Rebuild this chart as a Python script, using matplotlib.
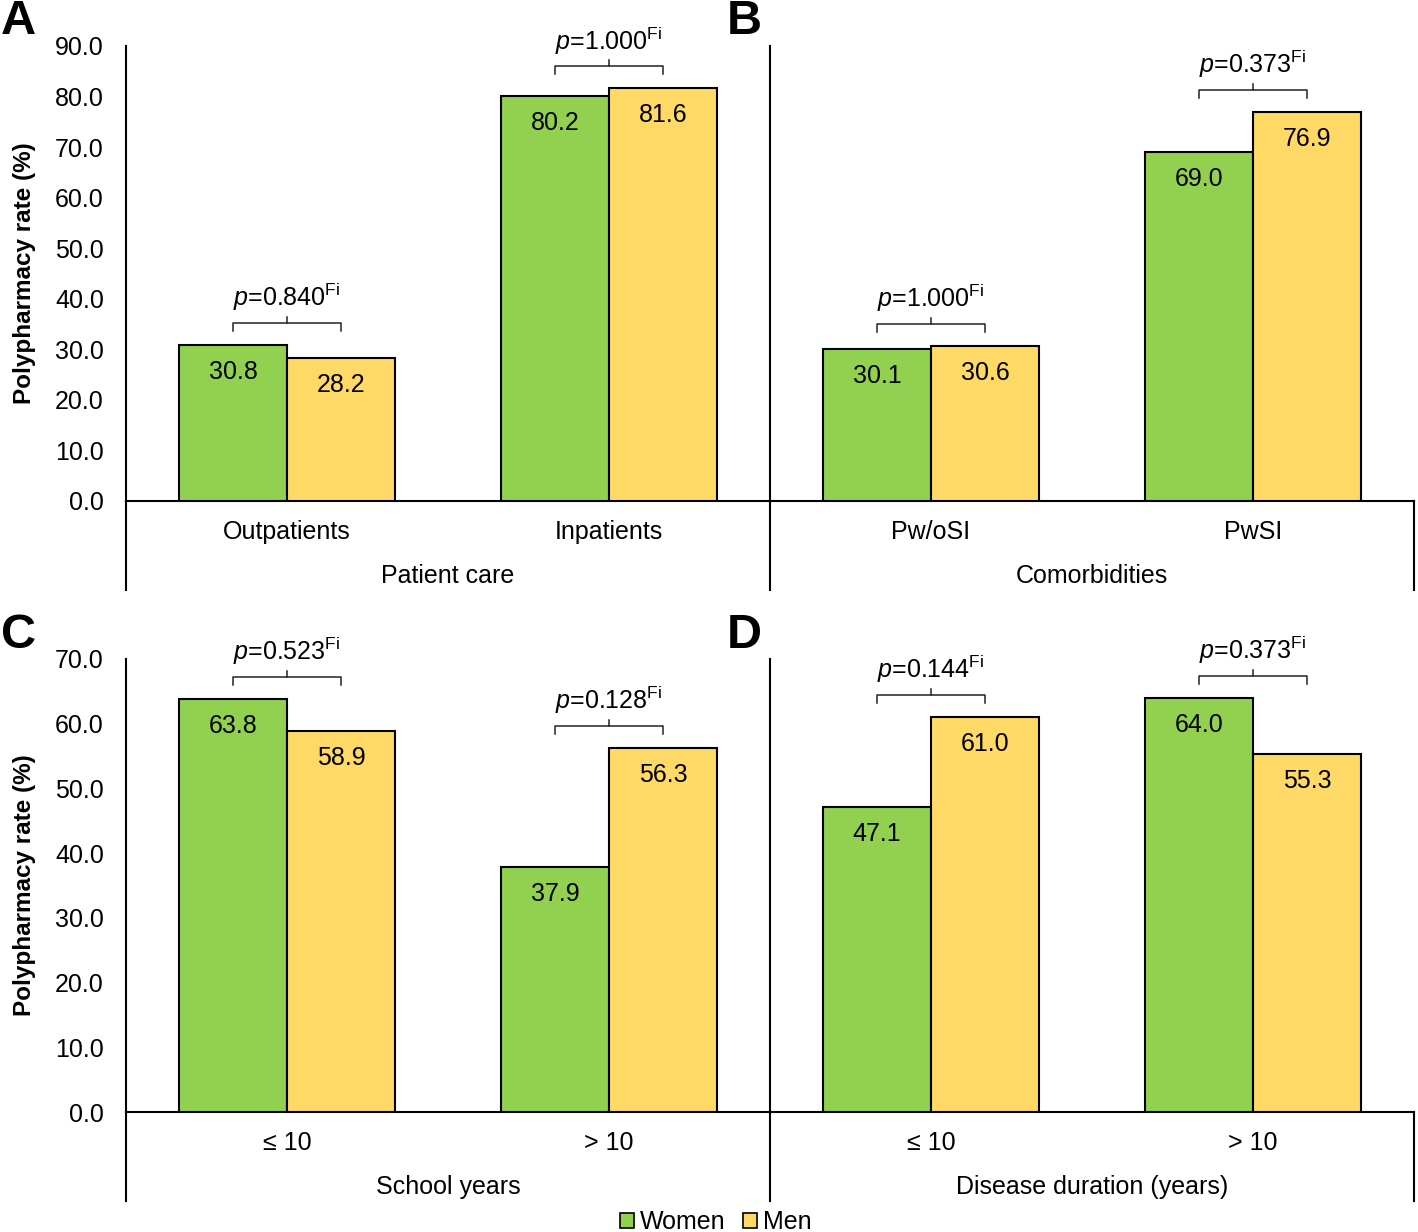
import matplotlib
matplotlib.use("Agg")
import matplotlib.pyplot as plt
from matplotlib.patches import Patch

plt.rcParams['font.family'] = ['Liberation Sans', 'DejaVu Sans']
plt.rcParams['mathtext.fontset'] = 'custom'
plt.rcParams['mathtext.rm'] = 'Liberation Sans'
plt.rcParams['mathtext.it'] = 'Liberation Sans:italic'
plt.rcParams['mathtext.bf'] = 'Liberation Sans:bold'

# ---------------- data ----------------
series_names = ["Women", "Men"]
colors = ["#92D050", "#FFD966"]

a_categories = ["Outpatients", "Inpatients"]
a_women = [30.8, 80.2]
a_men = [28.2, 81.6]
a_pvals = ["0.840", "1.000"]
a_group = "Patient care"

b_categories = ["Pw/oSI", "PwSI"]
b_women = [30.1, 69.0]
b_men = [30.6, 76.9]
b_pvals = ["1.000", "0.373"]
b_group = "Comorbidities"

c_categories = ["\u2264 10", "> 10"]
c_women = [63.8, 37.9]
c_men = [58.9, 56.3]
c_pvals = ["0.523", "0.128"]
c_group = "School years"

d_categories = ["\u2264 10", "> 10"]
d_women = [47.1, 64.0]
d_men = [61.0, 55.3]
d_pvals = ["0.144", "0.373"]
d_group = "Disease duration (years)"

top_ticks = [0, 10, 20, 30, 40, 50, 60, 70, 80, 90]
bottom_ticks = [0, 10, 20, 30, 40, 50, 60, 70]

# ---------------- layout ----------------
W, H = 1418, 1232
fig = plt.figure(figsize=(W / 100, H / 100), dpi=100)


def fx(px):
    return px / W


def fy(py):
    return 1 - py / H


FS = 18
BAR_W = 0.335


def panel(left_px, top_px, bottom_px, ymax, cats, women, men, pvals, group,
          show_y, ticks, right_line):
    h_px = bottom_px - top_px
    ax = fig.add_axes([fx(left_px), fy(bottom_px), 644 / W, h_px / H])
    ax.set_xlim(-0.5, 1.5)
    ax.set_ylim(0, ymax)
    ppu = h_px / ymax  # pixels per data unit
    x = list(range(len(cats)))
    ax.bar([i - BAR_W / 2 for i in x], women, width=BAR_W, color=colors[0],
           edgecolor='black', linewidth=1.5, zorder=3)
    ax.bar([i + BAR_W / 2 for i in x], men, width=BAR_W, color=colors[1],
           edgecolor='black', linewidth=1.5, zorder=3)
    # value labels inside bars
    for i in x:
        for off, v in ((-BAR_W / 2, women[i]), (BAR_W / 2, men[i])):
            ax.text(i + off, v - 27 / ppu, f"{v:.1f}", ha='center', va='center',
                    fontsize=FS, zorder=4)
    # brackets with p-values
    for i in x:
        top = max(women[i], men[i])
        yb = top + 22 / ppu
        x1, x2 = i - BAR_W / 2, i + BAR_W / 2
        lw = 1.1
        ax.plot([x1, x1, x2, x2], [yb - 8 / ppu, yb, yb, yb - 8 / ppu],
                color='#222222', lw=lw, clip_on=False, solid_joinstyle='round')
        ax.plot([i, i], [yb, yb + 6 / ppu], color='#222222', lw=lw, clip_on=False)
        ax.text(i, yb + 26 / ppu, f"$p$=$\\mathrm{{{pvals[i]}}}^{{\\mathrm{{Fi}}}}$",
                ha='center', va='center', fontsize=FS)
    # spines
    for s in ('top', 'right'):
        ax.spines[s].set_visible(False)
    ax.spines['left'].set_linewidth(1.5)
    ax.spines['bottom'].set_linewidth(1.5)
    ax.set_xticks([])
    if show_y:
        ax.set_yticks(ticks)
        ax.set_yticklabels([f"{t:.1f}" for t in ticks], fontsize=FS)
        ax.tick_params(axis='y', length=0, pad=16)
    else:
        ax.set_yticks([])
    # lines below axis (multi-level category frame)
    depth = 89 / h_px
    ax.plot([0, 0], [0, -depth], transform=ax.transAxes, color='black', lw=1.5,
            clip_on=False)
    if right_line:
        ax.plot([1, 1], [0, -depth], transform=ax.transAxes, color='black', lw=1.5,
                clip_on=False)
    # category and group labels
    tr = ax.get_xaxis_transform()
    for i, c in enumerate(cats):
        ax.text(i, -31 / h_px, c, transform=tr, ha='center', va='center',
                fontsize=FS)
    ax.text(0.5, -75 / h_px, group, transform=ax.transAxes, ha='center',
            va='center', fontsize=FS)
    return ax


panel(126, 46, 501, 90, a_categories, a_women, a_men, a_pvals, a_group,
      True, top_ticks, False)
panel(770, 46, 501, 90, b_categories, b_women, b_men, b_pvals, b_group,
      False, top_ticks, True)
panel(126, 659, 1112, 70, c_categories, c_women, c_men, c_pvals, c_group,
      True, bottom_ticks, False)
panel(770, 659, 1112, 70, d_categories, d_women, d_men, d_pvals, d_group,
      False, bottom_ticks, True)

# y labels
for yc in (273, 885):
    fig.text(fx(25), fy(yc), "Polypharmacy rate (%)", rotation=90, ha='center',
             va='center', fontsize=17.5, fontweight='bold')

# panel letters
for letter, xp, yp in (("A", 1, 21), ("B", 727, 21), ("C", 1, 636), ("D", 727, 636)):
    fig.text(fx(xp), fy(yp), letter, ha='left', va='center', fontsize=35,
             fontweight='bold')

# legend
handles = [Patch(facecolor=colors[k], edgecolor='black', linewidth=1.2,
                 label=series_names[k]) for k in range(2)]
fig.legend(handles=handles, loc='center', bbox_to_anchor=(fx(716), fy(1222)),
           ncol=2, frameon=False, fontsize=FS, handlelength=0.55, handleheight=0.55,
           handletextpad=0.25, columnspacing=0.7, borderpad=0, borderaxespad=0)

fig.savefig("out.png", dpi=100)
